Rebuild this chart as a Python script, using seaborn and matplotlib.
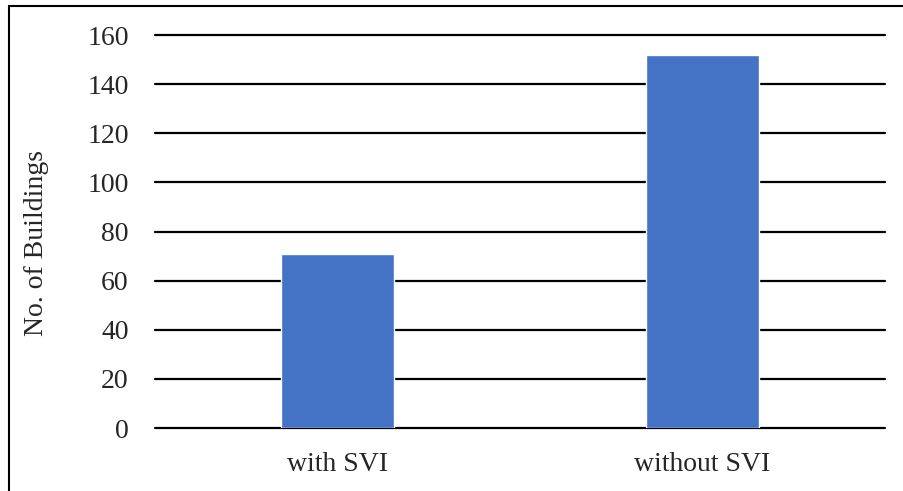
import pandas as pd
import seaborn as sns
import matplotlib.pyplot as plt
from matplotlib.lines import Line2D

# data
CATEGORIES = ['with SVI', 'without SVI']
BUILDINGS = [71, 152]
Y_TICKS = [0, 20, 40, 60, 80, 100, 120, 140, 160]

DATA = pd.DataFrame({'group': CATEGORIES, 'count': BUILDINGS})

sns.set_style('white')
plt.rcParams['font.family'] = ['Liberation Serif', 'DejaVu Serif']

fig = plt.figure(figsize=(9.04, 4.91), dpi=100)
ax = fig.add_axes([0.1715, 0.1283, 0.8075, 0.8004])

sns.barplot(data=DATA, x='group', y='count', color='#4472C4', width=0.31,
            saturation=1, ax=ax, zorder=3)

ax.set_ylim(0, 160)
ax.set_yticks(Y_TICKS)
ax.yaxis.grid(True, color='black', linewidth=1.6, zorder=0)
ax.set_axisbelow(True)
for gl in ax.get_ygridlines():
    gl.set_clip_on(False)
for side in ['top', 'right', 'left', 'bottom']:
    ax.spines[side].set_visible(False)
ax.tick_params(axis='y', length=0, pad=19, labelsize=20)
ax.tick_params(axis='x', length=0, pad=17, labelsize=20)
ax.set_xlabel('')
ax.set_ylabel('No. of Buildings', fontsize=20)
ax.yaxis.set_label_coords(-0.145, 0.47)

# outer frame: only the top and left edges show in the crop
fig.add_artist(Line2D([8.5 / 904, 8.5 / 904], [0, 1 - 5.5 / 491],
                      transform=fig.transFigure, color='black', linewidth=1.5))
fig.add_artist(Line2D([8.5 / 904, 1], [1 - 5.5 / 491, 1 - 5.5 / 491],
                      transform=fig.transFigure, color='black', linewidth=1.5))

plt.savefig('out.png', dpi=100)
